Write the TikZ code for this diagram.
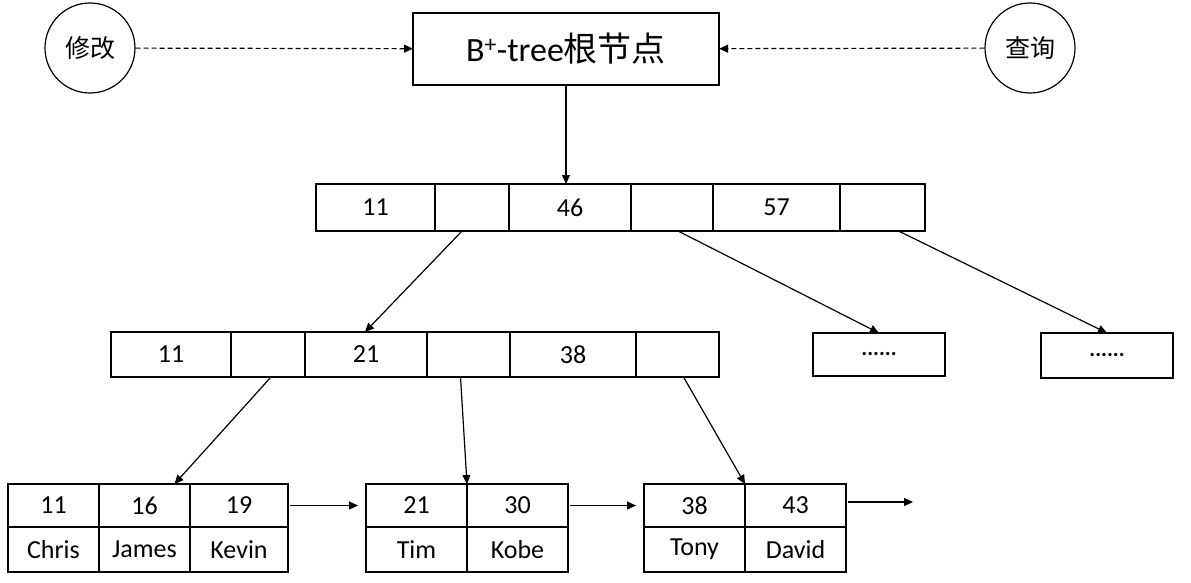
\documentclass[tikz,border=0pt]{standalone}
\usepackage{fontspec}
\setmainfont{Carlito}
\newfontfamily\cjk{Noto Sans CJK SC}
\usetikzlibrary{arrows.meta,calc}
\begin{document}
\begin{tikzpicture}[x=1pt,y=-1pt,
  cell/.style n args={2}{draw, line width=1.2pt, minimum width=#1, minimum height=#2, anchor=north west, inner sep=0pt, outer sep=0pt, font=\fontsize{26}{28}\selectfont},
  circ/.style={draw, line width=1.2pt, circle, minimum size=90pt, inner sep=0pt, font=\cjk\fontsize{25}{28}\selectfont},
  arr/.style={line width=1.2pt, -{Triangle[length=9pt,width=8pt]}},
  darr/.style={arr, dash pattern=on 5pt off 3pt}]
\useasboundingbox (0,0) rectangle (1191,582);
% root
\node[cell={306pt}{72pt}, font=\fontsize{34}{36}\selectfont] (root) at (413,13) {B\textsuperscript{+}-tree{\cjk 根节点}};
\node[circ] (mod) at (90,48) {修改};
\node[circ] (qry) at (1030,48) {查询};
\draw[darr] (mod) -- (root);
\draw[darr] (qry) -- (root);
% level 1
\node[cell={119pt}{47pt}] (l1a) at (316,184) {11};
\node[cell={74pt}{47pt}] (l1b) at (435,184) {};
\node[cell={122pt}{47pt}] (l1c) at (509,184) {46};
\node[cell={82pt}{47pt}] (l1d) at (631,184) {};
\node[cell={127pt}{47pt}] (l1e) at (713,184) {57};
\node[cell={85pt}{47pt}] (l1f) at (840,184) {};
\draw[arr] (root.south) -- (root.south |- l1c.north);
% level 2
\node[cell={120pt}{45pt}] (l2a) at (111,332) {11};
\node[cell={74pt}{45pt}] (l2b) at (231,332) {};
\node[cell={122pt}{45pt}] (l2c) at (305,332) {21};
\node[cell={83pt}{45pt}] (l2d) at (427,332) {};
\node[cell={126pt}{45pt}] (l2e) at (510,332) {38};
\node[cell={83pt}{45pt}] (l2f) at (636,332) {};
\node[cell={132pt}{43pt}, font=\bfseries\fontsize{22}{24}\selectfont] (dot1) at (813,333) {......};
\node[cell={132pt}{45pt}, font=\bfseries\fontsize{22}{24}\selectfont] (dot2) at (1041,333) {......};
\draw[arr] ($(l1b.south)+(-10,0)$) -- ($(l2c.north)+(-1,0)$);
\draw[arr] ($(l1d.south)+(6,0)$) -- (dot1.north);
\draw[arr] ($(l1f.south)+(16,0)$) -- (dot2.north);
% leaves
\node[cell={91pt}{43pt}] (k1a) at (8,484) {11};
\node[cell={91pt}{43pt}] (k1b) at (99,484) {16};
\node[cell={98pt}{43pt}] (k1c) at (190,484) {19};
\node[cell={91pt}{45pt}] (n1a) at (8,527) {Chris};
\node[cell={91pt}{45pt}] (n1b) at (99,527) {James};
\node[cell={98pt}{45pt}] (n1c) at (190,527) {Kevin};
\node[cell={101pt}{43pt}] (k2a) at (366,484) {21};
\node[cell={101pt}{43pt}] (k2b) at (467,484) {30};
\node[cell={101pt}{45pt}] (n2a) at (366,527) {Tim};
\node[cell={101pt}{45pt}] (n2b) at (467,527) {Kobe};
\node[cell={101pt}{43pt}] (k3a) at (644,484) {38};
\node[cell={101pt}{43pt}] (k3b) at (745,484) {43};
\node[cell={101pt}{45pt}] (n3a) at (644,527) {Tony};
\node[cell={101pt}{45pt}] (n3b) at (745,527) {David};
\coordinate (end) at (913,502);
\draw[arr] ($(l2b.south)+(3,0)$) -- ($(k1b.north)+(30,0)$);
\draw[arr] ($(l2d.south)+(-8,0)$) -- (k2a.north east);
\draw[arr] ($(l2f.south)+(6,0)$) -- (k3a.north east);
\draw[arr, shorten <=2pt, shorten >=8pt] (k1c.east) -- (k2a.west);
\draw[arr, shorten <=2pt, shorten >=8pt] (k2b.east) -- (k3a.west);
\draw[arr, shorten <=2pt] (k3b.east |- end) -- (end);
\end{tikzpicture}
\end{document}
